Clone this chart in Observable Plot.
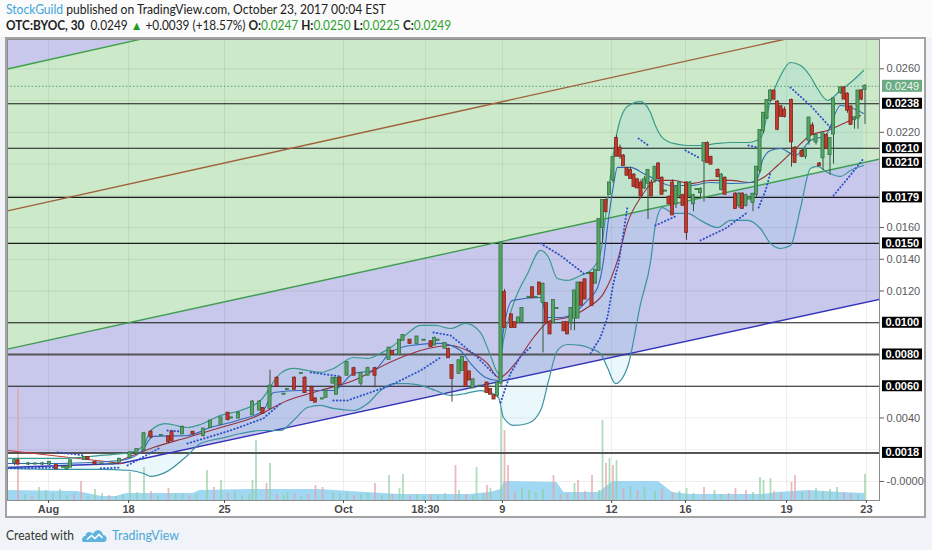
<!DOCTYPE html>
<html>
<head>
<meta charset="utf-8">
<script src="https://cdn.jsdelivr.net/npm/d3@7"></script>
<script src="https://cdn.jsdelivr.net/npm/@observablehq/plot@0.6"></script>
<style>
html,body{margin:0;padding:0;}
body{width:932px;height:550px;overflow:hidden;position:relative;background:#f0f3f7;font-family:Lato,"Open Sans",sans-serif;}
#top{position:absolute;left:0;top:0;width:932px;height:37px;background:#fbfbfb;}
.hl{position:absolute;left:6px;white-space:nowrap;transform-origin:0 50%;color:#222;font-size:12.5px;line-height:14px;}
#h1{top:3px;}
#h2{top:19px;}
.g{color:#2ca02c;}
#chart{position:absolute;left:5px;top:37px;width:921px;height:481px;border:2px solid #a3a3a3;box-sizing:border-box;background:#fff;}
#chart svg{display:block;}
#chart g[aria-label="x-axis tick label"]{font-weight:bold;}
#foot1{position:absolute;left:6px;top:526px;font-size:14px;line-height:18px;color:#333;white-space:nowrap;transform-origin:0 50%;}
#foot2{position:absolute;left:112px;top:526px;font-size:14px;line-height:18px;color:#4aa7d8;white-space:nowrap;transform-origin:0 50%;}
#logo{position:absolute;left:82px;top:527px;}
</style>
</head>
<body>
<div id="top"></div>
<div id="h1" class="hl"><span style="color:#3fa5dd">StockGuild</span> published on TradingView.com, October 23, 2017 00:04 EST</div>
<div id="h2" class="hl"><b>OTC:BYOC, 30</b>&nbsp; 0.0249 <span style="color:#1c9e1c">▲</span> +0.0039 (+18.57%) <b>O:</b><span class="g">0.0247</span> <b>H:</b><span class="g">0.0250</span> <b>L:</b><span class="g">0.0225</span> <b>C:</b><span class="g">0.0249</span></div>
<div id="chart"></div>
<svg id="logo" width="26" height="16" viewBox="0 0 26 16"><path d="M2 15 C-1 15 -0.5 9 3.5 9 C3.5 4.5 9 3.5 11 7 C13 2 20 2 21 8 C25.5 8 26 15 21.5 15 Z" fill="#5db3dc"/><path d="M5 12.5 L9.5 8.5 L13 11.5 L17 7.5 L20.5 11" stroke="#fff" stroke-width="1.6" fill="none"/></svg>
<div id="foot1">Created with</div>
<div id="foot2">TradingView</div>
<script>
// ---- scale frame (bar index, price in units of 0.0001) ----
const xMax = 249.14;
const yMin = -12, yMax = 278.5;

// ---- axis ticks ----
const tickBars = [11.7, 34.6, 62, 96, 119.4, 141.4, 172.6, 193.7, 222.6, 245.4];
const tickLabels = ["Aug", "18", "25", "Oct", "18:30", "9", "12", "16", "19", "23"];
const yGrid = [0, 20, 40, 60, 80, 100, 120, 140, 160, 180, 200, 220, 240, 260];
const yTicksShown = [0, 40, 120, 140, 160, 220, 260];

// ---- candles: [bar, open, high, low, close] (price x 0.0001) ----
const candlesAug = [[2,12,14,10,13],[3,13,14,11,11],[6,11,12,10,11],[8,11,11,11,11],[10,11,12,10,11],[12,11,12,10,12],[14,10,10,8,8],[16,9,9,9,9],[17,8,9,8,9],[18,9,13,9,13],[22,14,15,14,15],[23,15,15,14,14],[25,12,12,11,11],[27,11,11,11,11],[30,11,12,11,11],[32,12,14,12,14],[35,15,18,15,18],[37,18,20,18,20],[39,20,31,19,30]];
const candlesAugLate = [[41,31,32,27,28],[44,29,29,29,29],[46,28,28,24,25],[47,31,32,25,26],[50,30,35,30,34],[53,31,31,29,30],[56,29,33,28,33],[58,34,38,34,38],[61,36,40,36,40],[63,43,43,38,39],[64,40,40,40,40],[66,40,44,40,43],[70,42,51,42,50],[72,45,51,45,50],[73,46,46,43,43],[75,46,70,46,60],[77,65,66,60,60],[79,55,55,55,55],[80,58,58,58,58],[82,65,66,58,58],[84,68,68,68,68],[85,65,66,56,56]];
const candlesSep = [[87,59,60,51,51],[88,52,52,50,50],[90,52,52,52,52],[91,53,57,53,57],[93,62,65,62,65],[94,55,65,55,65],[95,65,66,61,61],[97,67,75,67,75],[99,71,72,67,67],[101,62,68,60,68],[103,67,72,67,71],[105,71,72,59,67],[109,77,84,77,84],[110,82,82,80,80],[112,80,89,80,89],[113,89,92,89,92],[115,89,89,87,87],[117,87,91,87,91],[119,89,89,89,89],[121,88,88,85,85],[122,86,91,86,90],[123,89,89,89,89],[125,84,87,84,87]];
const candlesOct = [[126,83,84,78,78],[127,73,73,50,65],[129,68,76,68,76],[130,70,78,70,78],[131,75,75,60,60],[132,69,69,64,64],[133,59,64,59,64],[135,60,60,60,60],[137,62,62,56,56],[138,58,58,55,55],[139,54,54,52,52],[140,54,62,53,62],[141,62,150,60,150]];
const candlesOct9 = [[142,119,121,97,97],[144,105,105,97,97],[145,100,100,97,97],[146,100,103,100,103],[147,101,109,101,109],[149,116,116,116,116],[150,122,122,116,116],[151,116,116,116,116],[152,125,125,118,118],[153,113,125,81,124],[154,112,112,100,100],[155,100,100,93,93],[156,100,114,100,114],[157,109,109,109,109],[159,100,100,95,95],[160,100,100,93,93],[161,100,109,95,109],[162,103,120,95,120],[163,103,125,103,125],[164,125,125,111,111],[165,127,127,115,115],[166,131,131,131,131],[167,131,131,111,111],[168,125,133,125,133]];
const candlesOct12 = [[169,133,165,133,165],[170,160,177,150,177],[171,177,178,170,170],[172,181,188,181,188],[173,190,204,188,204],[174,216,218,205,205],[175,210,212,203,205],[176,205,206,199,199],[177,197,198,193,193],[178,196,198,191,191],[179,193,194,185,186],[180,190,191,185,185],[181,188,190,180,180],[182,185,192,184,190],[183,188,196,165,196],[184,188,190,180,180],[185,190,198,188,198],[186,200,201,190,191],[187,191,192,181,181],[188,183,183,183,183],[189,179,180,175,175],[190,188,190,168,168],[191,175,186,172,185],[192,180,189,178,188],[193,180,181,174,174],[194,188,189,152,157],[195,180,189,178,188],[196,175,181,170,180],[197,184,184,184,184],[198,182,185,178,184],[199,202,213,176,213],[200,213,214,201,201]];
const candlesOct16 = [[201,204,205,200,200],[203,196,197,192,192],[204,184,194,183,193],[205,191,192,181,181],[208,181,182,172,172],[209,174,182,172,181],[210,181,182,172,172],[211,174,181,173,180],[212,178,179,178,179],[213,176,181,170,181],[214,181,198,179,198],[215,196,221,194,221],[216,221,232,219,232],[217,229,240,228,240]];
const candlesOct19 = [[218,240,247,239,246],[219,246,246,240,241],[220,239,240,221,222],[221,236,237,230,230],[222,234,236,229,230],[224,240,241,198,214],[225,210,211,201,201],[227,208,209,204,205],[228,205,210,203,209],[229,215,229,212,229],[230,224,226,218,219],[231,214,218,212,218],[232,200,201,199,199],[233,204,219,196,219],[234,218,219,210,210],[235,206,216,193,216],[236,219,241,200,241],[238,245,248,244,248],[239,248,248,241,241],[240,244,245,232,234],[241,236,236,225,225],[242,228,230,222,229],[243,229,246,222,246],[244,246,247,240,241],[245,247,250,225,249]];

// ---- Bollinger bands (bar, upper, lower) ----
const bbBar = [0,15.1,26.6,35.1,38.9,40.9,45.1,51.4,55.1,60.9,66.6,72.3,78.0,81.7,85.7,89.4,93.1,98.9,102.9,106.6,110.3,114.3,118.0,122.3,126.6,130.9,135.1,138.0,140.3,141.7,144.6,148.6,152.3,154.6,157.1,160.0,163.7,166.6,169.4,171.4,173.7,177.1,180.9,183.7,185.1,187.1,190.3,194.3,198.0,202.9,206.6,211.4,215.1,218.0,220.9,223.7,226.6,229.4,231.4,234.3,238.0,240.9,244.6];
const bbUpper = [14.5,14.5,16.4,18.3,22.7,32.1,36.5,34.0,35.9,41.6,44.7,51.0,68.1,71.2,69.9,68.7,71.2,78.1,77.5,80.7,85.7,93.3,98.3,98.3,96.4,99.6,93.9,79.4,68.1,88.8,112.2,131.1,145.6,141.1,127.9,126.7,129.8,132.9,143.7,177.1,214.9,236.3,239.4,232.5,224.3,216.7,213.0,211.7,211.7,213.0,213.6,213.6,216.1,240.1,255.8,264.0,262.1,255.2,247.6,240.1,246.4,251.4,259.0];
const bbLower = [8.2,7.6,7.6,6.9,5.0,3.2,5.7,16.4,23.9,27.1,30.2,32.1,32.1,38.4,46.6,47.9,46.0,44.7,49.1,57.3,61.7,61.7,60.5,57.3,54.2,55.4,57.3,56.1,52.9,40.3,35.3,36.5,44.7,63.6,82.5,86.3,85.7,83.8,80.7,71.8,61.7,71.8,112.2,138.0,161.3,172.6,168.9,168.9,164.5,160.0,164.5,164.5,159.4,150.0,146.8,148.7,172.6,197.2,198.5,194.7,192.2,196.0,199.1];

// ---- fast average (blue) ----
const fastBar = [0,15.1,32.3,38.0,41.7,51.4,58.0,65.7,73.1,76.0,83.7,93.1,98.9,104.6,109.4,115.1,123.7,129.4,132.3,136.6,140.0,141.7,144.3,152.3,154.3,158.0,161.7,165.7,168.6,170.3,171.4,172.9,174.3,178.0,181.7,185.7,189.4,195.1,200.9,206.6,212.3,214.3,215.7,218.0,220.9,225.1,229.4,233.7,238.0,240.9,244.6];
const fastVal = [11.3,11.3,13.2,18.3,28.4,29.0,34.0,38.4,44.7,56.1,57.3,57.3,68.1,69.9,81.3,85.7,87.0,82.5,74.4,65.5,63.6,95.1,114.1,115.9,103.3,103.3,105.9,114.1,122.2,139.3,160.0,183.4,197.9,197.9,194.1,189.7,186.5,186.5,188.4,187.8,188.4,190.9,202.3,208.6,209.8,205.4,214.9,218.0,236.9,235.7,231.9];

// ---- slow average (maroon) ----
const slowBar = [32.3,41.7,51.4,60.9,70.3,80.0,89.4,98.9,108.6,118.0,126.6,131.4,137.1,140.3,145.7,150.3,155.1,160.0,165.7,170.3,174.3,177.1,180.9,185.7,190.3,195.1,200.9,206.6,212.3,216.0,220.0,224.6,229.4,234.3,238.9,243.7];
const slowVal = [13.2,21.4,27.7,34.0,40.3,51.0,57.3,63.6,74.4,82.5,85.7,82.5,74.4,65.5,76.2,90.7,101.4,103.3,109.6,118.5,139.3,162.6,178.9,189.7,189.7,187.8,189.7,189.7,188.4,191.5,199.1,208.6,218.0,221.2,225.6,230.6];

// ---- parabolic SAR segments: [bar, price] ----
const sarSegments = [
  [[0,8.2],[13.7,8.8]],
  [[14.3,18.3],[22.0,16.4]],
  [[26.6,8.2],[32.3,8.8]],
  [[34.3,10.1],[38.0,14.5],[43.7,21.4]],
  [[45.7,32.1],[49.4,31.5]],
  [[51.4,23.9],[63.7,32.1],[73.1,39.7],[78.0,49.1]],
  [[86.6,68.7],[95.1,66.2]],
  [[93.1,51.0],[97.1,51.0],[109.4,60.5],[118.0,69.9],[123.7,78.1]],
  [[121.7,93.9],[126.6,92.0],[133.7,79.4],[140.0,65.5]],
  [[140.9,49.8],[143.7,68.1],[146.6,78.8],[149.4,84.4]],
  [[152.3,150.0],[158.0,142.4],[164.6,131.1]],
  [[166.6,80.7],[169.4,90.7],[171.4,103.3],[173.1,124.8],[174.6,137.4],[176.0,156.9],[177.1,172.6]],
  [[180.3,216.1],[183.1,211.7]],
  [[185.1,161.3],[191.4,167.6]],
  [[193.7,208.6],[197.4,204.2]],
  [[198.0,151.9],[205.1,159.4],[211.4,169.5]],
  [[211.7,211.7],[214.3,210.5]],
  [[214.6,172.6],[216.6,183.4],[218.0,194.7]],
  [[223.7,248.3],[229.4,236.9],[235.1,223.1]],
  [[236.0,180.2],[240.3,191.6],[244.6,203.5]]
];

// ---- volume: [bar, relative volume, up(1)/down(0)] ----
const volumeBars = [[3,112,0],[9,13,1],[11,10,1],[15,11,1],[21,19,0],[25,11,1],[35,28,1],[39,33,1],[46,12,0],[57,30,1],[59,13,0],[61,20,1],[65,9,1],[70,20,1],[71,60,1],[74,17,0],[75,37,1],[80,8,1],[88,15,0],[90,13,0],[93,8,1],[97,8,1],[105,17,0],[109,25,1],[112,12,1],[113,26,1],[128,35,0],[129,10,1],[134,33,1],[137,15,0],[138,12,1],[141,92,1],[142,70,0],[143,35,0],[156,25,0],[162,17,1],[163,20,0],[167,25,0],[170,80,1],[171,37,0],[172,42,1],[173,35,0],[174,40,1],[194,12,1],[199,13,0],[202,10,1],[208,12,0],[211,10,0],[215,23,1],[216,20,1],[218,22,1],[224,18,0],[225,25,0],[237,13,1],[245,26,1]];
const volumeSmall = [[5,6,1],[7,4,0],[13,7,1],[17,5,1],[19,6,0],[23,4,1],[27,7,1],[29,5,0],[31,4,1],[33,6,1],[37,8,1],[41,9,0],[43,5,1],[48,6,1],[50,7,1],[52,5,0],[54,6,1],[63,7,0],[67,5,1],[69,6,1],[77,6,0],[79,5,1],[82,7,0],[84,4,1],[86,6,0],[95,7,1],[99,5,0],[101,6,1],[103,7,1],[107,5,1],[110,6,0],[115,5,0],[117,6,1],[119,4,1],[121,6,0],[123,5,1],[125,7,1],[131,6,0],[133,5,1],[136,7,1],[145,9,0],[147,12,1],[149,10,1],[151,8,1],[153,11,1],[158,6,0],[160,7,0],[165,9,0],[169,10,1],[176,12,0],[178,14,1],[180,10,0],[182,13,1],[185,9,1],[187,11,0],[190,8,0],[192,9,1],[196,7,1],[204,6,1],[206,7,0],[213,8,1],[219,9,0],[221,7,0],[227,8,1],[229,10,0],[231,12,1],[233,9,1],[235,11,1],[239,8,0],[241,7,0],[243,6,1]];
const volumeAvgBar = [0,20,27,31,34,53,55,69,89,98,112,132,138,141,142,157,159,169,173,186,190,195,216,220,229,238,245];
const volumeAvg = [10,9,4,4,7,7,10,11,11,9,6,6,8,11,19,18,8,8,19,19,8,6,6,8,10,8,7];
const volumeToPrice = 1 / 1.587; // volume pane: relative volume -> price units above the pane floor

// ---- drawn channel lines: price at their two ends ----
const brownLine = [170.5, 291.8];
const greenUpper = [259.9, 383.0];
const greenLower = [83.4, 203.1];
const blueLineBar = [0, 32.3, 249.14];
const blueLineVal = [8.8, 11.3, 114.7];
const redLineBar = [0, 33.1];
const redLineVal = [19.5, 11.3];
const lavenderFloorBar = [0, 46, 249.14];
const lavenderFloorVal = [18, 18, 114.7];

// ---- horizontal levels and labels ----
const levelsThin = [238, 210, 179, 150, 100, 60];
const levelsThick = [80, 18];
const labelVals = [238, 210, 200.8, 179, 150, 100, 80, 60, 18];
const labelTexts = ["0.0238", "0.0210", "0.0210", "0.0179", "0.0150", "0.0100", "0.0080", "0.0060", "0.0018"];
const lastPrice = 249;
const lastPriceText = "0.0249";

// ---- build ----
const candles = [].concat(candlesAug, candlesAugLate, candlesSep, candlesOct, candlesOct9, candlesOct12, candlesOct16, candlesOct19)
  .map(([b, o, h, l, c]) => ({b, o, h, l, c}));
const up = candles.filter(d => d.c >= d.o);
const dn = candles.filter(d => d.c < d.o);
const sarPts = sarSegments.flatMap((s, k) => s.map(([b, v]) => ({b, v, k})));
const vols = volumeSmall.concat(volumeBars);
const edges = [0, xMax];
const vy = v => yMin + v * volumeToPrice;

const chart = Plot.plot({
  width: 917, height: 477,
  marginLeft: 0, marginTop: 0, marginRight: 45, marginBottom: 16,
  x: {domain: [0, xMax]},
  y: {domain: [yMin, yMax]},
  style: {fontFamily: "'Liberation Sans', Arial, sans-serif", background: "#fff", overflow: "visible"},
  marks: [
    // channel fills
    Plot.areaY(lavenderFloorBar, {x: d => d, y1: (d, i) => lavenderFloorVal[i], y2: () => 400, fill: "#c8c8ec", clip: true}),
    Plot.areaY(edges, {x: d => d, y1: (d, i) => greenLower[i], y2: (d, i) => greenUpper[i], fill: "#cce9c9", clip: true}),
    // grid
    Plot.ruleX(tickBars, {x: d => d, stroke: "#000", strokeOpacity: 0.07}),
    Plot.ruleY(yGrid, {y: d => d, stroke: "#000", strokeOpacity: 0.07}),
    // Bollinger fill
    Plot.areaY(bbBar, {x: d => d, y1: (d, i) => bbLower[i], y2: (d, i) => bbUpper[i], fill: "#74c9e4", fillOpacity: 0.15, curve: "monotone-x"}),
    // volume pane
    Plot.areaY(volumeAvgBar, {x: d => d, y1: () => yMin, y2: (d, i) => vy(volumeAvg[i]), fill: "#8fd1f1", fillOpacity: 0.85}),
    Plot.ruleX(vols.filter(d => d[2] === 1), {x: d => d[0], y1: () => yMin, y2: d => vy(d[1]), stroke: "#8fcca0", strokeOpacity: 0.7, strokeWidth: 1.8}),
    Plot.ruleX(vols.filter(d => d[2] === 0), {x: d => d[0], y1: () => yMin, y2: d => vy(d[1]), stroke: "#e3a4a8", strokeOpacity: 0.75, strokeWidth: 1.8}),
    // horizontal levels
    Plot.ruleY(levelsThin, {y: d => d, stroke: "#1a1a1a", strokeWidth: 1.1}),
    Plot.ruleY(levelsThick, {y: d => d, stroke: "#555", strokeWidth: 2}),
    Plot.ruleY([lastPrice], {y: d => d, stroke: "#5d9c74", strokeDasharray: "1.5 2", strokeWidth: 1}),
    // drawn trend lines
    Plot.line(edges, {x: d => d, y: (d, i) => brownLine[i], stroke: "#a0603a", strokeWidth: 1.4, clip: true}),
    Plot.line(edges, {x: d => d, y: (d, i) => greenUpper[i], stroke: "#3f9f4c", strokeWidth: 1.4, clip: true}),
    Plot.line(edges, {x: d => d, y: (d, i) => greenLower[i], stroke: "#3f9f4c", strokeWidth: 1.4, clip: true}),
    Plot.line(blueLineBar, {x: d => d, y: (d, i) => blueLineVal[i], stroke: "#3434b8", strokeWidth: 1.5, clip: true}),
    Plot.line(redLineBar, {x: d => d, y: (d, i) => redLineVal[i], stroke: "#c83a3a", strokeWidth: 1.2}),
    // indicators
    Plot.line(bbBar, {x: d => d, y: (d, i) => bbUpper[i], stroke: "#3a9b8a", strokeWidth: 1.2, curve: "monotone-x"}),
    Plot.line(bbBar, {x: d => d, y: (d, i) => bbLower[i], stroke: "#3a93a0", strokeWidth: 1.2, curve: "monotone-x"}),
    Plot.line(slowBar, {x: d => d, y: (d, i) => slowVal[i], stroke: "#963040", strokeWidth: 1.1, curve: "monotone-x"}),
    Plot.line(fastBar, {x: d => d, y: (d, i) => fastVal[i], stroke: "#3568b8", strokeWidth: 1.1, curve: "monotone-x"}),
    Plot.line(sarPts, {x: "b", y: "v", z: "k", stroke: "#3050c8", strokeWidth: 1.9, strokeDasharray: "0.4 3.1", strokeLinecap: "round"}),
    // candles
    Plot.ruleX(up, {x: "b", y1: "l", y2: "h", stroke: "#35553d", strokeWidth: 1}),
    Plot.ruleX(dn, {x: "b", y1: "l", y2: "h", stroke: "#5a3a36", strokeWidth: 1}),
    Plot.rect(up, {x1: d => d.b - 0.45, x2: d => d.b + 0.45, y1: "o", y2: "c", insetTop: -0.6, insetBottom: -0.6, fill: "#55a566", stroke: "#2c6a3a", strokeWidth: 0.7}),
    Plot.rect(dn, {x1: d => d.b - 0.45, x2: d => d.b + 0.45, y1: "o", y2: "c", insetTop: -0.6, insetBottom: -0.6, fill: "#c3392c", stroke: "#72201a", strokeWidth: 0.7}),
    // frame & axes
    Plot.frame({stroke: "#8c8c8c"}),
    Plot.axisY({anchor: "right", ticks: yTicksShown, tickFormat: d => d === 0 ? "-0.0000" : (d / 10000).toFixed(4), tickSize: 4, tickPadding: 3, fontSize: 11, color: "#5a5a5a", label: null}),
    Plot.axisX({ticks: tickBars, tickFormat: d => tickLabels[tickBars.indexOf(d)], tickSize: 3, tickPadding: 2, fontSize: 11, color: "#4a4a4a", label: null}),
    // price labels on the right axis
    Plot.rect(labelVals, {x1: () => xMax, x2: () => xMax, y1: d => d, y2: d => d, insetLeft: 3, insetRight: -43, insetTop: -5.5, insetBottom: -5.5, fill: "#000"}),
    Plot.text(labelVals, {x: () => xMax, y: d => d, text: (d, i) => labelTexts[i], dx: 6, textAnchor: "start", fill: "#fff", fontWeight: "bold", fontSize: 11}),
    Plot.rect([lastPrice], {x1: () => xMax, x2: () => xMax, y1: d => d, y2: d => d, insetLeft: 3, insetRight: -43, insetTop: -6, insetBottom: -6, fill: "#6aab82"}),
    Plot.text([lastPrice], {x: () => xMax, y: d => d, text: () => lastPriceText, dx: 6, textAnchor: "start", fill: "#eef8f0", fontSize: 11})
  ]
});
document.getElementById("chart").appendChild(chart);

function fit(id, w) {
  const el = document.getElementById(id);
  el.style.transform = "none";
  const r = el.getBoundingClientRect().width;
  if (r > 0) el.style.transform = "scaleX(" + (w / r) + ")";
}
function fitAll() { fit("h1", 380); fit("h2", 445); fit("foot1", 68); fit("foot2", 67); }
fitAll();
if (document.fonts && document.fonts.ready) document.fonts.ready.then(fitAll);
</script>
</body>
</html>
